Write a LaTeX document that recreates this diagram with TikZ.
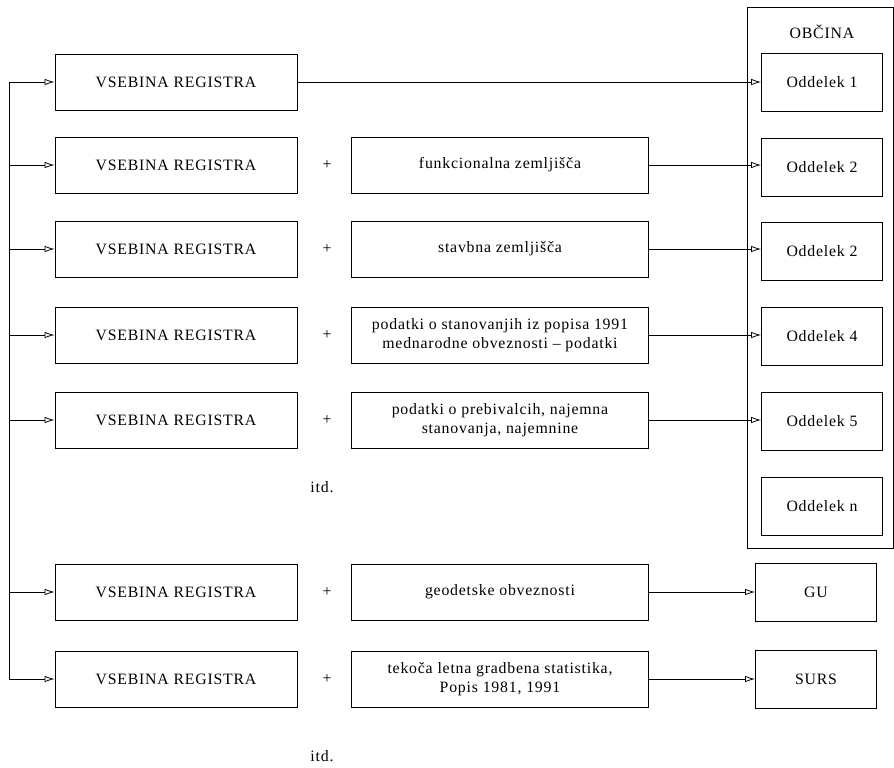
\documentclass[tikz,border=0pt]{standalone}
\usepackage{fontspec}
\setmainfont[LetterSpace=5]{Liberation Serif}
\usetikzlibrary{arrows.meta,positioning}

\begin{document}
\begin{tikzpicture}[x=0.02cm, y=-0.02cm, font=\small, every node/.style={inner sep=2pt}]
        \tikzset{
            reg/.style={draw, line width=0.5pt, minimum width=4.84cm, minimum height=1.12cm, align=center},
            add/.style={draw, line width=0.5pt, minimum width=5.94cm, minimum height=1.12cm, align=center},
            dep/.style={draw, line width=0.5pt, minimum width=2.42cm, minimum height=1.16cm, align=center},
            arr/.style={-{Latex[open, length=2mm, width=1.3mm]}, line width=0.45pt}
        }
        \useasboundingbox (0,0) rectangle (894,768);

        % Left column: register contents
        \node[reg] (r1) at (176,82) {VSEBINA REGISTRA};
        \node[reg] (r2) at (176,165) {VSEBINA REGISTRA};
        \node[reg] (r3) at (176,249) {VSEBINA REGISTRA};
        \node[reg] (r4) at (176,335) {VSEBINA REGISTRA};
        \node[reg] (r5) at (176,420) {VSEBINA REGISTRA};
        \node[reg] (r6) at (176,592) {VSEBINA REGISTRA};
        \node[reg] (r7) at (176,679) {VSEBINA REGISTRA};

        % Plus signs
        \node (p2) at (327,165) {+};
        \node (p3) at (327,249) {+};
        \node (p4) at (327,335) {+};
        \node (p5) at (327,420) {+};
        \node (p6) at (327,592) {+};
        \node (p7) at (327,679) {+};

        % Middle column: added data
        \node[add] (a2) at (500,165) {funkcionalna zemljišča};
        \node[add] (a3) at (500,249) {stavbna zemljišča};
        \node[add] (a4) at (500,335) {podatki o stanovanjih iz popisa 1991\\mednarodne obveznosti -- podatki};
        \node[add] (a5) at (500,420) {podatki o prebivalcih, najemna\\stanovanja, najemnine};
        \node[add] (a6) at (500,592) {geodetske obveznosti};
        \node[add] (a7) at (500,679) {tekoča letna gradbena statistika,\\Popis 1981, 1991};

        \node (etc1) at (322,487) {itd.};
        \node (etc2) at (322,756) {itd.};

        % Municipality frame
        \draw[line width=0.5pt] (747,7) rectangle (893,548);
        \node (obc) at (822,32) {OBČINA};
        \node[dep] (o1) at (822,82) {Oddelek 1};
        \node[dep] (o2) at (822,167) {Oddelek 2};
        \node[dep] (o3) at (822,251) {Oddelek 2};
        \node[dep] (o4) at (822,336) {Oddelek 4};
        \node[dep] (o5) at (822,421) {Oddelek 5};
        \node[dep] (o6) at (822,506) {Oddelek n};

        % Other receivers
        \node[dep] (gu) at (816,592) {GU};
        \node[dep] (surs) at (816,679) {SURS};

        % Distribution bus on the left
        \coordinate (bus1) at (9,82);
        \coordinate (bus7) at (9,679);
        \draw[line width=0.45pt] (bus1) -- (bus7);
        \foreach \i in {1,...,7} {
            \draw[arr] (bus1 |- r\i.west) -- (r\i.west);
        }

        % Outputs
        \draw[arr] (r1.east) -- (o1.west);
        \draw[arr] (a2.east) -- (a2.east -| o2.west);
        \draw[arr] (a3.east) -- (a3.east -| o3.west);
        \draw[arr] (a4.east) -- (a4.east -| o4.west);
        \draw[arr] (a5.east) -- (a5.east -| o5.west);
        \draw[arr] (a6.east) -- (gu.west);
        \draw[arr] (a7.east) -- (surs.west);
    \end{tikzpicture}
\end{document}
